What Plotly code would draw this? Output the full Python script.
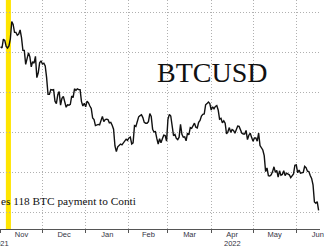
import pandas as pd
import plotly.graph_objects as go

# ---- data (BTCUSD, thousands of USD, daily) ----
START = "2021-11-01"
nov = [61.3, 61.0, 63.2, 62.9, 61.4, 61.0, 61.5, 63.3, 67.6, 66.9, 64.9, 64.9, 64.2, 64.5, 65.5,
       63.6, 60.4, 60.4, 56.9, 58.1, 59.8, 58.8, 56.3, 57.6, 57.2, 58.9, 53.6, 54.8, 57.3, 57.8]
dec = [57.0, 57.2, 56.5, 53.6, 49.4, 49.4, 50.6, 50.5, 50.6, 47.7, 47.1, 49.3, 50.1, 46.7, 48.4, 48.9,
       47.6, 46.2, 46.8, 46.7, 46.9, 49.0, 48.6, 50.8, 50.4, 50.8, 50.6, 50.6, 47.6, 46.5, 47.2]
jan = [46.3, 47.7, 47.3, 46.5, 45.9, 43.5, 43.1, 41.6, 41.8, 41.9, 41.8, 42.7, 43.9, 42.6, 43.1, 43.2,
       43.1, 42.3, 42.4, 41.7, 40.7, 36.5, 35.1, 36.3, 36.7, 37.0, 36.8, 37.2, 37.8, 38.2, 37.9]
feb = [38.5, 38.7, 37.0, 37.3, 41.6, 41.4, 42.4, 43.8, 44.1, 44.3, 43.6, 42.4, 42.2, 42.2, 42.6, 44.6,
       43.9, 40.7, 40.0, 40.1, 38.4, 37.0, 38.3, 37.3, 38.3, 39.2, 39.1, 37.7]
mar = [43.2, 44.4, 44.0, 42.0, 39.1, 39.4, 38.4, 38.1, 38.7, 41.9, 39.4, 38.7, 38.8, 37.8, 39.7, 39.3,
       41.1, 40.9, 41.8, 42.2, 41.2, 41.0, 42.4, 42.9, 44.0, 44.4, 44.5, 46.8, 47.1, 47.5, 47.1]
apr = [45.5, 46.3, 45.8, 46.4, 46.6, 45.5, 43.2, 43.4, 42.3, 42.8, 42.2, 39.5, 40.1, 41.1, 39.9, 40.6,
       40.4, 39.7, 40.8, 41.5, 41.4, 40.5, 39.7, 39.5, 39.5, 40.4, 38.1, 39.2, 39.7, 38.6]
may = [37.7, 38.5, 38.5, 37.7, 39.7, 36.6, 36.0, 35.5, 34.1, 30.1, 31.0, 29.1, 29.0, 29.3, 30.1, 31.3,
       29.9, 30.4, 28.7, 30.3, 29.2, 29.4, 30.3, 29.1, 29.7, 29.5, 29.3, 28.6, 29.0, 29.5, 31.7]
jun = [31.8, 29.8, 30.5, 29.7, 29.9, 29.9, 31.4, 31.1, 30.2, 30.1, 29.1, 28.4, 26.8, 22.5, 22.2, 22.6, 20.4]

btc = nov + dec + jan + feb + mar + apr + may + jun
dates = pd.date_range(START, periods=len(btc), freq="D")

event_span = ["2021-11-04 19:00", "2021-11-08 10:00"]
x_range = ["2021-10-31 14:00", "2022-06-18 00:00"]
y_range = [15.75, 73.0]

title_text = "BTCUSD"
note_text = "es 118 BTC payment to Conti"
year_labels = ["2021", "2022"]
year_dates = ["2021-11-08 00:00", "2022-04-16"]

fig = go.Figure()
fig.add_trace(go.Scatter(x=dates, y=btc, mode="lines",
                         line=dict(color="#111111", width=1.4), hoverinfo="skip"))

fig.add_shape(type="rect", xref="x", yref="paper", x0=event_span[0], x1=event_span[1],
              y0=0, y1=1, fillcolor="#FFE500", line=dict(width=0), layer="below")

fig.add_annotation(text=title_text, xref="paper", yref="paper", x=0.661, y=0.683,
                   xanchor="center", yanchor="middle", showarrow=False,
                   font=dict(family="Liberation Serif", size=28, color="#111111"))
fig.add_annotation(text=note_text, xref="paper", yref="paper", x=-0.004, y=0.122,
                   xanchor="left", yanchor="middle", showarrow=False,
                   font=dict(family="Liberation Serif", size=11.3, color="#111111"))
fig.add_annotation(text=year_labels[0], xref="x", yref="paper", x=year_dates[0], y=-0.064,
                   xanchor="right", yanchor="middle", showarrow=False, borderpad=0,
                   font=dict(family="Liberation Sans", size=7.5, color="#333344"))
fig.add_annotation(text=year_labels[1], xref="x", yref="paper", x=year_dates[1], y=-0.064,
                   xanchor="center", yanchor="middle", showarrow=False, borderpad=0,
                   font=dict(family="Liberation Sans", size=7.5, color="#333344"))

fig.update_layout(
    width=324, height=248,
    margin=dict(l=0, r=0, t=0, b=19),
    paper_bgcolor="white", plot_bgcolor="white",
    showlegend=False,
    xaxis=dict(type="date", range=x_range, dtick="M1", tick0="2021-11-01",
               ticklabelmode="period", tickformat="%b", ticklabeloverflow="allow",
               ticklabelstandoff=-5,
               showgrid=True, gridcolor="#b0b0b0", griddash="1px,2px", gridwidth=1,
               showline=True, linecolor="#555555", linewidth=1,
               ticks="outside", ticklen=3, tickcolor="#555555",
               tickfont=dict(family="Liberation Sans", size=7.5, color="#333344"),
               zeroline=False),
    yaxis=dict(range=y_range, dtick=10, tick0=0, showticklabels=False,
               showgrid=True, gridcolor="#b0b0b0", griddash="1px,2px", gridwidth=1,
               zeroline=False, showline=False, ticks=""),
)

fig.write_html("out.html")
